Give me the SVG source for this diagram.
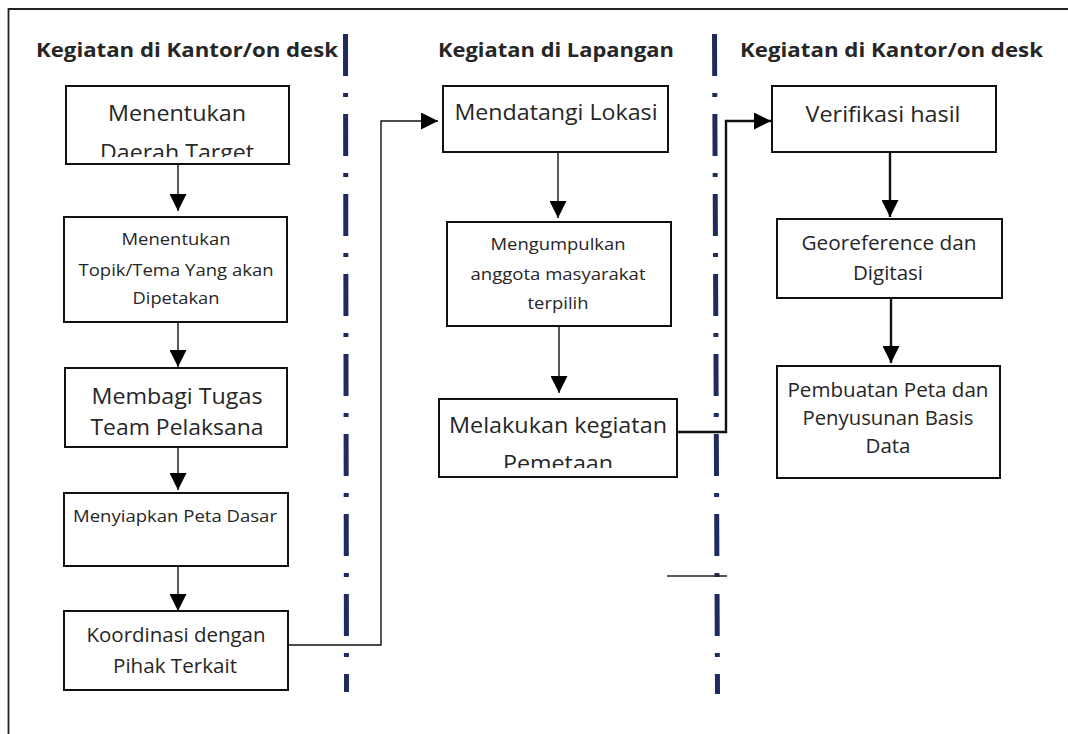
<svg xmlns="http://www.w3.org/2000/svg" width="1068" height="734" viewBox="0 0 1068 734">
<style>
.box{fill:#fff;stroke:#111;stroke-width:2}
.t{font-family:"Open Sans","Noto Sans",sans-serif;fill:#262626;text-anchor:middle}
.h{font-family:"Open Sans","Noto Sans",sans-serif;fill:#262626;font-weight:bold;text-anchor:start}
.l{font-size:21px}
.m{font-size:20px}
.s{font-size:17px}
.c{fill:none;stroke:#111;stroke-width:1.4}
.c2{fill:none;stroke:#111;stroke-width:2.4}
.sep{fill:none;stroke:#1f2a5e;stroke-width:5;stroke-dasharray:42 17 4 17}
</style>
<defs>
<marker id="ah" markerUnits="userSpaceOnUse" markerWidth="17" markerHeight="17" refX="16" refY="8" orient="auto" viewBox="0 0 16 16">
<path d="M0,0 L16,8 L0,16 z" fill="#000"/>
</marker>
<clipPath id="clip1"><rect x="66" y="86" width="223" height="71"/></clipPath>
<clipPath id="clip2"><rect x="439" y="399" width="238" height="69"/></clipPath>
</defs>
<rect width="1068" height="734" fill="#fff"/>
<path d="M8.5 734 V9 H1068" fill="none" stroke="#222" stroke-width="1.8"/>
<g id="separators">
<path class="sep" d="M345.5 34 L346.5 692"/>
<path class="sep" d="M714.5 34 L717.5 694"/>
</g>
<g id="headings">
<text class="h" x="36" y="57" font-size="19" textLength="302" lengthAdjust="spacingAndGlyphs">Kegiatan di Kantor/on desk</text>
<text class="h" x="438" y="57" font-size="19" textLength="236" lengthAdjust="spacingAndGlyphs">Kegiatan di Lapangan</text>
<text class="h" x="740" y="57" font-size="19" textLength="303" lengthAdjust="spacingAndGlyphs">Kegiatan di Kantor/on desk</text>
</g>
<g id="connectors">
<path class="c" d="M178 164 V211" marker-end="url(#ah)"/>
<path class="c" d="M178 322 V367" marker-end="url(#ah)"/>
<path class="c" d="M178 447 V490" marker-end="url(#ah)"/>
<path class="c" d="M178 566 V611" marker-end="url(#ah)"/>
<path class="c" d="M288 645 H381 V121 H438" marker-end="url(#ah)"/>
<path class="c" d="M558 152 V218" marker-end="url(#ah)"/>
<path class="c" d="M559 326 V393" marker-end="url(#ah)"/>
<path class="c2" d="M677 432 H726 V121 H771" marker-end="url(#ah)"/>
<path class="c2" d="M890 152 V217" marker-end="url(#ah)"/>
<path class="c2" d="M891 298 V363" marker-end="url(#ah)"/>
<path d="M667 576 H727" fill="none" stroke="#222" stroke-width="1.5"/>
</g>
<g id="n1">
<rect class="box" x="66" y="86" width="223" height="78"/>
<text class="t l" x="177" y="121" textLength="138" lengthAdjust="spacingAndGlyphs">Menentukan</text>
<text class="t l" x="177" y="160" textLength="154" lengthAdjust="spacingAndGlyphs" clip-path="url(#clip1)">Daerah Target</text>
</g>
<g id="n2">
<rect class="box" x="64" y="217" width="223" height="105"/>
<text class="t s" x="176" y="245" textLength="109" lengthAdjust="spacingAndGlyphs">Menentukan</text>
<text class="t s" x="176" y="276" textLength="195" lengthAdjust="spacingAndGlyphs">Topik/Tema Yang akan</text>
<text class="t s" x="176" y="304" textLength="87" lengthAdjust="spacingAndGlyphs">Dipetakan</text>
</g>
<g id="n3">
<rect class="box" x="65" y="368" width="222" height="79"/>
<text class="t l" x="177" y="404" textLength="171" lengthAdjust="spacingAndGlyphs">Membagi Tugas</text>
<text class="t l" x="177" y="435" textLength="173" lengthAdjust="spacingAndGlyphs">Team Pelaksana</text>
</g>
<g id="n4">
<rect class="box" x="64" y="493" width="224" height="73"/>
<text class="t s" x="175" y="522" textLength="204" lengthAdjust="spacingAndGlyphs">Menyiapkan Peta Dasar</text>
</g>
<g id="n5">
<rect class="box" x="64" y="611" width="224" height="79"/>
<text class="t m" x="176" y="642" textLength="179" lengthAdjust="spacingAndGlyphs">Koordinasi dengan</text>
<text class="t m" x="175" y="673" textLength="124" lengthAdjust="spacingAndGlyphs">Pihak Terkait</text>
</g>
<g id="n6">
<rect class="box" x="443" y="86" width="225" height="66"/>
<text class="t l" x="556" y="120" textLength="203" lengthAdjust="spacingAndGlyphs">Mendatangi Lokasi</text>
</g>
<g id="n7">
<rect class="box" x="447" y="222" width="224" height="104"/>
<text class="t s" x="558" y="250" textLength="135" lengthAdjust="spacingAndGlyphs">Mengumpulkan</text>
<text class="t s" x="558" y="280" textLength="175" lengthAdjust="spacingAndGlyphs">anggota masyarakat</text>
<text class="t s" x="558" y="309" textLength="61" lengthAdjust="spacingAndGlyphs">terpilih</text>
</g>
<g id="n8">
<rect class="box" x="439" y="399" width="238" height="78"/>
<text class="t l" x="558" y="433" textLength="218" lengthAdjust="spacingAndGlyphs">Melakukan kegiatan</text>
<text class="t l" x="558" y="471" textLength="110" lengthAdjust="spacingAndGlyphs" clip-path="url(#clip2)">Pemetaan</text>
</g>
<g id="n9">
<rect class="box" x="772" y="86" width="224" height="66"/>
<text class="t l" x="883" y="122" textLength="155" lengthAdjust="spacingAndGlyphs">Verifikasi hasil</text>
</g>
<g id="n10">
<rect class="box" x="777" y="219" width="225" height="79"/>
<text class="t m" x="889" y="250" textLength="175" lengthAdjust="spacingAndGlyphs">Georeference dan</text>
<text class="t m" x="888" y="280" textLength="70" lengthAdjust="spacingAndGlyphs">Digitasi</text>
</g>
<g id="n11">
<rect class="box" x="777" y="366" width="223" height="112"/>
<text class="t m" x="888" y="397" textLength="201" lengthAdjust="spacingAndGlyphs">Pembuatan Peta dan</text>
<text class="t m" x="888" y="425" textLength="171" lengthAdjust="spacingAndGlyphs">Penyusunan Basis</text>
<text class="t m" x="888" y="453" textLength="45" lengthAdjust="spacingAndGlyphs">Data</text>
</g>
</svg>
